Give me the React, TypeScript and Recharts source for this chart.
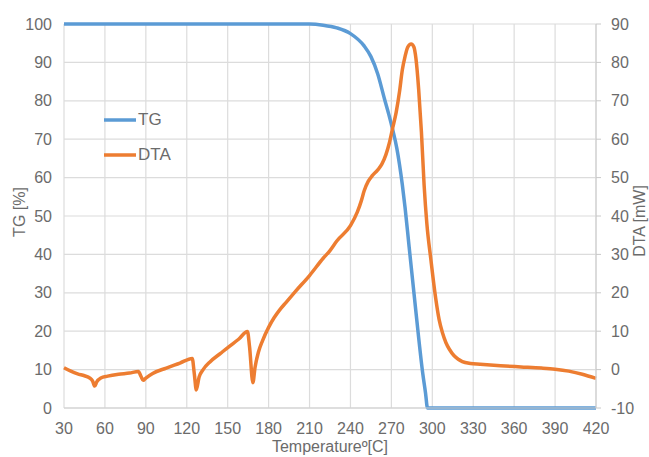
import React from 'react';
import { LineChart, Line, XAxis, YAxis, CartesianGrid, Legend } from 'recharts';

const xTicks = [30, 60, 90, 120, 150, 180, 210, 240, 270, 300, 330, 360, 390, 420];
const tgTicks = [0, 10, 20, 30, 40, 50, 60, 70, 80, 90, 100];
const dtaTicks = [-10, 0, 10, 20, 30, 40, 50, 60, 70, 80, 90];

const tgTemps = [30, 210, 220, 230, 240, 250, 255, 260, 265, 268, 271, 274, 276, 278, 280, 283, 288, 293, 295, 296.5, 420];
const tgValues = [100, 100, 99.7, 99, 97.5, 94.3, 91.5, 87, 80.4, 76.6, 72.4, 67.6, 63.3, 58.2, 52.3, 42, 25, 9, 4, 0, 0];

const dtaTemps = [
  30, 35, 40, 45, 49, 51, 52.5, 54, 57, 62, 70, 78, 84.5, 86.5, 88, 90, 95, 105, 115, 124,
  125.5, 127, 129, 132, 137, 145, 151, 158, 164.5, 166, 168.5, 170, 172.5, 175.5, 180, 184,
  188, 193, 200, 210, 220, 225, 230, 240, 245, 248, 250, 253, 256, 260, 263, 266, 268.5, 271,
  273.5, 276, 278, 280, 282, 284.5, 286.5, 288, 290, 292, 294, 296, 299, 302.5, 305, 307.5,
  310, 312.5, 316, 319, 322, 328, 335, 350, 365, 380, 390, 400, 410, 420,
];
const dtaValues = [
  0.5, -0.4, -1.1, -1.6, -2.2, -3.0, -4.3, -3.2, -2.2, -1.7, -1.2, -0.9, -0.5, -1.8, -2.8, -2.2, -1.0, 0.4, 1.7, 2.9,
  -1.0, -5.3, -2.0, 0.0, 2.0, 4.3, 6.0, 7.9, 9.9, 6, -3.4, 0.5, 4.5, 7.5, 11, 13.5,
  15.5, 17.6, 20.5, 24.5, 29, 31, 33.5, 37.5, 41, 44, 46.5, 49, 50.5, 52, 53.5, 56, 59, 63,
  67, 72.5, 78, 81.5, 84, 84.8, 84, 81, 73, 62, 48, 38, 28.5, 18.5, 13, 9.5,
  7.0, 5.3, 3.6, 2.7, 2.1, 1.6, 1.4, 1.0, 0.7, 0.4, 0.1, -0.4, -1.2, -2.3,
];

const seriesNames = ['TG', 'DTA'];
const seriesColors = ['#5B9BD5', '#ED7D31'];

const tgData = tgTemps.map((t, i) => ({ t, tg: tgValues[i] }));
const dtaData = dtaTemps.map((t, i) => ({ t, dta: dtaValues[i] }));

const FONT = 'Liberation Sans, Arial, sans-serif';
const TXT = '#6b6b6b';

const LegendBox = () => (
  <div style={{ fontFamily: FONT, fontSize: 17, color: TXT }}>
    {seriesNames.map((n, i) => (
      <div key={n} style={{ display: 'flex', alignItems: 'center', height: 35 }}>
        <svg width={32} height={6} style={{ marginRight: 2 }}>
          <line x1={0} y1={3} x2={32} y2={3} stroke={seriesColors[i]} strokeWidth={3.5} />
        </svg>
        <span>{n}</span>
      </div>
    ))}
  </div>
);

const LeftTitle = (props: any) => {
  const vb = props.viewBox || {};
  const x = 19;
  const y = vb.y + vb.height / 2 - 4;
  return (
    <text x={x} y={y} transform={`rotate(-90 ${x} ${y})`} textAnchor="middle" dominantBaseline="central"
      fill={TXT} fontSize={16} fontFamily={FONT}>TG [%]</text>
  );
};

const RightTitle = (props: any) => {
  const vb = props.viewBox || {};
  const x = 639;
  const y = vb.y + vb.height / 2 + 5;
  return (
    <text x={x} y={y} transform={`rotate(-90 ${x} ${y})`} textAnchor="middle" dominantBaseline="central"
      fill={TXT} fontSize={16} fontFamily={FONT}>DTA [mW]</text>
  );
};

export default function App() {
  return (
    <div style={{ position: 'absolute', left: 0, top: 0, background: '#fff' }}>
      <LineChart width={649} height={457} margin={{ top: 24, right: 0, left: 0, bottom: 0 }}>
        <CartesianGrid stroke="#dcdcdc" strokeWidth={1.2} yAxisId="tg" />
        <XAxis
          dataKey="t"
          type="number"
          domain={[30, 420]}
          ticks={xTicks}
          allowDuplicatedCategory={false}
          height={49}
          tickLine={false}
          tickMargin={9}
          axisLine={{ stroke: '#d0d0d0', strokeWidth: 1.2 }}
          tick={{ fill: TXT, fontSize: 16, fontFamily: FONT }}
          label={{ value: 'Temperatureº[C]', position: 'insideBottom', offset: 5, fill: TXT, fontSize: 16, fontFamily: FONT }}
        />
        <YAxis
          yAxisId="tg"
          orientation="left"
          width={64}
          domain={[0, 100]}
          ticks={tgTicks}
          tickLine={false}
          axisLine={false}
          tickMargin={6}
          tick={{ fill: TXT, fontSize: 16, fontFamily: FONT }}
          label={<LeftTitle />}
        />
        <YAxis
          yAxisId="dta"
          orientation="right"
          width={53}
          domain={[-10, 90]}
          ticks={dtaTicks}
          tickSize={5}
          tickLine={{ stroke: '#c8c8c8' }}
          axisLine={{ stroke: '#d0d0d0', strokeWidth: 1.2 }}
          tickMargin={10}
          tick={{ fill: TXT, fontSize: 16, fontFamily: FONT }}
          label={<RightTitle />}
        />
        <Legend
          verticalAlign="middle"
          align="center"
          layout="horizontal"
          content={<LegendBox />}
          wrapperStyle={{ position: 'absolute', left: 104, top: 102, width: 'auto' }}
        />
        <Line
          yAxisId="tg"
          data={tgData}
          dataKey="tg"
          name="TG"
          type="monotone"
          stroke={seriesColors[0]}
          strokeWidth={3.5}
          dot={false}
          activeDot={false}
          isAnimationActive={false}
        />
        <Line
          yAxisId="dta"
          data={dtaData}
          dataKey="dta"
          name="DTA"
          type="monotone"
          stroke={seriesColors[1]}
          strokeWidth={3.5}
          dot={false}
          activeDot={false}
          isAnimationActive={false}
        />
      </LineChart>
    </div>
  );
}
